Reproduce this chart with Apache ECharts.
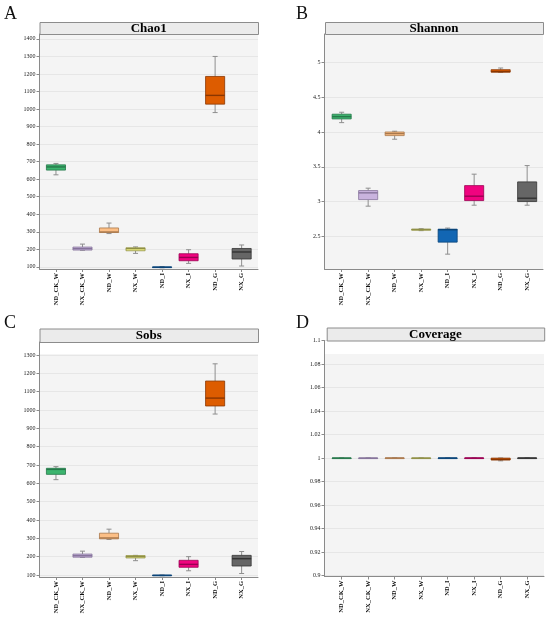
<!DOCTYPE html>
<html>
<head>
<meta charset="utf-8">
<script src="https://cdn.jsdelivr.net/npm/echarts@6/dist/echarts.min.js"></script>
<style>
html, body { margin: 0; padding: 0; background: #fff; }
#main { width: 550px; height: 620px; }
</style>
</head>
<body>
<div id="main"></div>
<script>
// 分组
var groups = ['ND_CK_W', 'NX_CK_W', 'ND_W', 'NX_W', 'ND_I', 'NX_I', 'ND_G', 'NX_G'];

// 填充色 / 边框色
var fillColors = ['#3cb46e', '#c9b3de', '#fcbf86', '#fcfc8c', '#1266b3', '#f0037f', '#dd5c00', '#666666'];
var edgeColors = ['#26784a', '#85739a', '#a9784c', '#8f8f45', '#0a4478', '#9a0052', '#8a3600', '#333333'];

// 每组 [min, Q1, median, Q3, max]
var chao1 = [
    [625, 652, 670, 682, 690],
    [195, 196, 204, 213, 230],
    [290, 296, 299, 322, 350],
    [177, 192, 204, 209, 214],
    [95, 96, 98, 100, 102],
    [120, 135, 154, 175, 198],
    [980, 1028, 1078, 1186, 1300],
    [105, 145, 185, 205, 225]
];
var shannon = [
    [4.134, 4.187, 4.22, 4.255, 4.283],
    [2.936, 3.03, 3.127, 3.16, 3.194],
    [3.896, 3.948, 3.977, 4.0, 4.011],
    [2.585, 2.592, 2.6, 2.607, 2.612],
    [2.248, 2.42, 2.598, 2.606, 2.622],
    [2.95, 3.016, 3.079, 3.231, 3.395],
    [4.855, 4.858, 4.866, 4.893, 4.917],
    [2.95, 3.002, 3.05, 3.284, 3.518]
];
var sobs = [
    [620, 649, 676, 682, 691],
    [196, 197, 205, 214, 230],
    [294, 297, 302, 328, 350],
    [178, 193, 200, 206, 207],
    [96, 97, 98, 99, 100],
    [123, 142, 158, 180, 200],
    [978, 1022, 1065, 1158, 1252],
    [108, 149, 189, 207, 228]
];
var coverage = [
    [0.9998, 0.9999, 0.99995, 1.0, 1.0],
    [0.9997, 0.9998, 0.9999, 1.0, 1.0],
    [0.9999, 0.99995, 1.0, 1.0, 1.0],
    [0.9997, 0.9998, 0.9999, 1.0, 1.0],
    [0.9999, 0.99995, 1.0, 1.0, 1.0],
    [0.9999, 0.99995, 1.0, 1.0, 1.0],
    [0.9976, 0.9983, 0.9988, 0.9999, 1.0],
    [0.9999, 0.99995, 1.0, 1.0, 1.0]
];

// 坐标轴范围 [min, max, 刻度间隔]
var chao1Axis = [88, 1428, 100];
var shannonAxis = [2.035, 5.405, 0.5];
var sobsAxis = [89, 1371, 100];
var coverageAxis = [0.89915, 1.1, 0.02];

// 面板布局(像素)
var panels = [
    { letter: 'A', title: 'Chao1', data: chao1, axis: chao1Axis, maxLabel: false,
      frame: [39.5, 34, 218.5, 235], inner: [42.7, 212.2], strip: [39.5, 22, 218.5, 12],
      bg: [34, 235], letterPos: [4, 5] },
    { letter: 'B', title: 'Shannon', data: shannon, axis: shannonAxis, maxLabel: false,
      frame: [324.5, 34, 218.5, 235], inner: [328.4, 212], strip: [325, 22, 218, 12],
      bg: [34, 235], letterPos: [296, 5] },
    { letter: 'C', title: 'Sobs', data: sobs, axis: sobsAxis, maxLabel: false,
      frame: [39.5, 342, 218.5, 235], inner: [42.7, 212.2], strip: [39.5, 328.5, 218.5, 13.5],
      bg: [354, 223], letterPos: [4, 314] },
    { letter: 'D', title: 'Coverage', data: coverage, axis: coverageAxis, maxLabel: true,
      frame: [324.5, 340.5, 219.5, 236], inner: [328.4, 212], strip: [326.7, 327.5, 217.5, 13],
      bg: [354, 222.5], letterPos: [296, 314] }
];

var FONT = 'Liberation Serif';
var AXIS_GRAY = '#8a8a8a';

function renderBox(params, api) {
    var x = api.value(0);
    var pLo = api.coord([x, api.value(1)]);
    var pQ1 = api.coord([x, api.value(2)]);
    var pMed = api.coord([x, api.value(3)]);
    var pQ3 = api.coord([x, api.value(4)]);
    var pHi = api.coord([x, api.value(5)]);
    var cx = pMed[0];
    var half = api.size([1, 0])[0] * 0.36;
    var i = params.dataIndex;
    var whisk = { stroke: '#8e8e8e', lineWidth: 1 };
    var h = Math.max(pQ1[1] - pQ3[1], 0.6);
    return {
        type: 'group',
        children: [
            { type: 'line', shape: { x1: cx, y1: pHi[1], x2: cx, y2: pQ3[1] }, style: whisk },
            { type: 'line', shape: { x1: cx, y1: pQ1[1], x2: cx, y2: pLo[1] }, style: whisk },
            { type: 'line', shape: { x1: cx - 2.5, y1: pHi[1], x2: cx + 2.5, y2: pHi[1] }, style: whisk },
            { type: 'line', shape: { x1: cx - 2.5, y1: pLo[1], x2: cx + 2.5, y2: pLo[1] }, style: whisk },
            { type: 'rect', shape: { x: cx - half, y: pQ3[1], width: half * 2, height: h },
              style: { fill: fillColors[i], stroke: edgeColors[i], lineWidth: 0.8 } },
            { type: 'line', shape: { x1: cx - half, y1: pMed[1], x2: cx + half, y2: pMed[1] },
              style: { stroke: edgeColors[i], lineWidth: 1.4 } }
        ]
    };
}

var grids = [], xAxes = [], yAxes = [], series = [], graphics = [];

panels.forEach(function (p, k) {
    var fr = p.frame;
    // 背景
    grids.push({ left: fr[0], top: p.bg[0], width: fr[2], height: p.bg[1], show: true,
        backgroundColor: '#f4f4f4', borderWidth: 0, z: -1 });
    // 外框坐标轴
    grids.push({ left: fr[0], top: fr[1], width: fr[2], height: fr[3], containLabel: false });
    // 箱线图
    grids.push({ left: p.inner[0], top: fr[1], width: p.inner[1], height: fr[3], containLabel: false });

    var gFrame = k * 3 + 1, gInner = k * 3 + 2;

    xAxes.push({
        gridIndex: gFrame, type: 'value', min: 0, max: 1,
        axisLine: { show: true, lineStyle: { color: AXIS_GRAY, width: 1 } },
        axisTick: { show: false }, axisLabel: { show: false }, splitLine: { show: false }
    });
    yAxes.push({
        gridIndex: gFrame, type: 'value', min: p.axis[0], max: p.axis[1],
        minInterval: p.axis[2], maxInterval: p.axis[2],
        axisLine: { show: true, lineStyle: { color: AXIS_GRAY, width: 1 } },
        axisTick: { show: true, length: 3, lineStyle: { color: AXIS_GRAY } },
        axisLabel: {
            fontFamily: FONT, fontSize: 6, color: '#222', margin: 4,
            showMinLabel: false, showMaxLabel: p.maxLabel,
            formatter: function (v) { return String(Math.round(v * 100000) / 100000); }
        },
        splitLine: { show: true, lineStyle: { color: '#e2e2e2', width: 0.8 } }
    });

    xAxes.push({
        gridIndex: gInner, type: 'category', data: groups, boundaryGap: true,
        axisLine: { show: false },
        axisTick: { show: true, alignWithLabel: true, length: 3, lineStyle: { color: AXIS_GRAY } },
        axisLabel: { interval: 0, rotate: 90, fontFamily: FONT, fontWeight: 'bold',
            fontSize: 6.5, color: '#111', margin: 4 },
        splitLine: { show: false }
    });
    yAxes.push({
        gridIndex: gInner, type: 'value', min: p.axis[0], max: p.axis[1], show: false,
        splitLine: { show: false }
    });

    series.push({
        type: 'custom',
        xAxisIndex: k * 2 + 1,
        yAxisIndex: k * 2 + 1,
        renderItem: renderBox,
        encode: { x: 0, y: [1, 2, 3, 4, 5] },
        data: groups.map(function (g, i) { return [i].concat(p.data[i]); }),
        z: 3
    });

    // 标题条
    var s = p.strip;
    graphics.push({
        type: 'rect', left: s[0], top: s[1], z: 10,
        shape: { width: s[2], height: s[3] },
        style: { fill: '#ebebeb', stroke: '#8c8c8c', lineWidth: 1 }
    });
    graphics.push({
        type: 'text', x: s[0] + s[2] / 2, y: s[1] + s[3] / 2 + 0.5, z: 11,
        style: { text: p.title, font: 'bold 13px "' + FONT + '"', fill: '#000',
            textAlign: 'center', textVerticalAlign: 'middle' }
    });
    // 面板字母
    graphics.push({
        type: 'text', x: p.letterPos[0], y: p.letterPos[1], z: 11,
        style: { text: p.letter, font: '18px "' + FONT + '"', fill: '#111',
            textAlign: 'left', textVerticalAlign: 'top' }
    });
});

var myChart = echarts.init(document.getElementById('main'));
myChart.setOption({
    animation: false,
    backgroundColor: '#fff',
    grid: grids,
    xAxis: xAxes,
    yAxis: yAxes,
    series: series,
    graphic: graphics
});
</script>
</body>
</html>
